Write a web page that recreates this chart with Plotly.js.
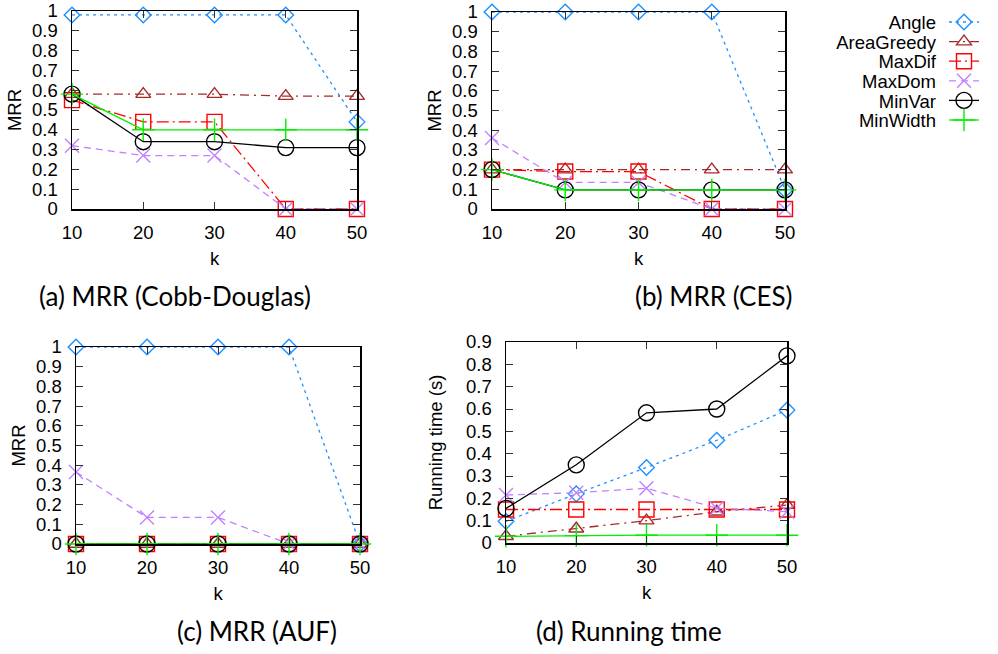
<!DOCTYPE html>
<html>
<head>
<meta charset="utf-8">
<script src="https://cdn.plot.ly/plotly-3.0.1.min.js"></script>
<style>
  html, body { margin: 0; padding: 0; background: #fff; }
  #chart { width: 998px; height: 654px; }
</style>
</head>
<body>
<div id="chart"></div>
<script>
// ---------- data ----------
const kValues = [10, 20, 30, 40, 50];
const seriesNames = ["Angle", "AreaGreedy", "MaxDif", "MaxDom", "MinVar", "MinWidth"];

// (a) MRR (Cobb-Douglas)
const cdAngle      = [0.98, 0.98, 0.98, 0.98, 0.44];
const cdAreaGreedy = [0.58, 0.58, 0.58, 0.57, 0.57];
const cdMaxDif     = [0.55, 0.44, 0.44, 0, 0];
const cdMaxDom     = [0.32, 0.27, 0.27, 0, 0];
const cdMinVar     = [0.58, 0.34, 0.34, 0.31, 0.31];
const cdMinWidth   = [0.58, 0.40, 0.40, 0.40, 0.40];

// (b) MRR (CES)
const cesAngle      = [1, 1, 1, 1, 0.097];
const cesAreaGreedy = [0.2, 0.2, 0.2, 0.2, 0.2];
const cesMaxDif     = [0.2, 0.19, 0.19, 0, 0];
const cesMaxDom     = [0.36, 0.135, 0.135, 0, 0];
const cesMinVar     = [0.2, 0.097, 0.097, 0.097, 0.097];
const cesMinWidth   = [0.2, 0.097, 0.097, 0.097, 0.097];

// (c) MRR (AUF)
const aufAngle      = [1, 1, 1, 1, 0];
const aufAreaGreedy = [0, 0, 0, 0, 0];
const aufMaxDif     = [0, 0, 0, 0, 0];
const aufMaxDom     = [0.365, 0.135, 0.135, 0, 0];
const aufMinVar     = [0, 0, 0, 0, 0];
const aufMinWidth   = [0, 0, 0, 0, 0];

// (d) Running time (s)
const rtAngle      = [0.097, 0.22, 0.338, 0.46, 0.595];
const rtAreaGreedy = [0.03, 0.064, 0.10, 0.14, 0.17];
const rtMaxDif     = [0.15, 0.15, 0.15, 0.15, 0.15];
const rtMaxDom     = [0.215, 0.225, 0.245, 0.156, 0.14];
const rtMinVar     = [0.155, 0.35, 0.583, 0.60, 0.838];
const rtMinWidth   = [0.03, 0.033, 0.035, 0.035, 0.035];

// tick labels
const mrrTicks  = [0, 0.1, 0.2, 0.3, 0.4, 0.5, 0.6, 0.7, 0.8, 0.9, 1];
const mrrLabels = ["0", "0.1", "0.2", "0.3", "0.4", "0.5", "0.6", "0.7", "0.8", "0.9", "1"];
const rtTicks   = [0, 0.1, 0.2, 0.3, 0.4, 0.5, 0.6, 0.7, 0.8, 0.9];
const rtLabels  = ["0", "0.1", "0.2", "0.3", "0.4", "0.5", "0.6", "0.7", "0.8", "0.9"];
const kLabels   = ["10", "20", "30", "40", "50"];

const captions = ["(a) MRR (Cobb-Douglas)", "(b) MRR (CES)", "(c) MRR (AUF)", "(d) Running time"];

// ---------- styles ----------
const styles = {
  Angle:      { color: "#1e90ff", dash: "3px,4px",            symbol: "diamond-open",     size: 12 },
  AreaGreedy: { color: "#a52a2a", dash: "9px,5px,2px,5px",     symbol: "triangle-up-open", size: 13 },
  MaxDif:     { color: "#ff0000", dash: "12px,4px,2px,4px",    symbol: "square-open",      size: 15 },
  MaxDom:     { color: "#c080ff", dash: "7px,5px",             symbol: "x-thin-open",      size: 14 },
  MinVar:     { color: "#000000", dash: "solid",               symbol: "circle-open",      size: 16 },
  MinWidth:   { color: "#00f000", dash: "solid",               symbol: "cross-thin-open",  size: 16 }
};

const panels = [
  { xa: "x",  ya: "y",  vals: [cdAngle, cdAreaGreedy, cdMaxDif, cdMaxDom, cdMinVar, cdMinWidth] },
  { xa: "x2", ya: "y2", vals: [cesAngle, cesAreaGreedy, cesMaxDif, cesMaxDom, cesMinVar, cesMinWidth] },
  { xa: "x3", ya: "y3", vals: [aufAngle, aufAreaGreedy, aufMaxDif, aufMaxDom, aufMinVar, aufMinWidth] },
  { xa: "x4", ya: "y4", vals: [rtAngle, rtAreaGreedy, rtMaxDif, rtMaxDom, rtMinVar, rtMinWidth] }
];

const traces = [];
panels.forEach((p, pi) => {
  seriesNames.forEach((name, si) => {
    const st = styles[name];
    traces.push({
      type: "scatter",
      mode: "lines+markers",
      name: name,
      legendgroup: name,
      showlegend: pi === 0,
      x: kValues,
      y: p.vals[si],
      xaxis: p.xa,
      yaxis: p.ya,
      cliponaxis: false,
      line: { color: st.color, width: 1.3, dash: st.dash },
      marker: { symbol: st.symbol, size: st.size, color: st.color, line: { color: st.color, width: 1.4 } }
    });
  });
});

const FONT = "Liberation Sans";
const tickFont = { family: FONT, size: 18.5, color: "#000" };

function xAxis(domain, anchor) {
  return {
    domain: domain, anchor: anchor, range: [10, 50],
    tickvals: kValues, ticktext: kLabels,
    ticks: "inside", ticklen: 7, tickwidth: 1, tickcolor: "#333",
    showline: true, linecolor: "#000", linewidth: 1.5, mirror: "ticks",
    showgrid: false, zeroline: false, fixedrange: true,
    tickfont: tickFont, ticklabelstandoff: 6,
    title: { text: "k", font: tickFont, standoff: 10 }
  };
}
function yAxis(domain, anchor, range, tv, tt, title, standoff) {
  return {
    domain: domain, anchor: anchor, range: range,
    tickvals: tv, ticktext: tt,
    ticks: "inside", ticklen: 7, tickwidth: 1, tickcolor: "#333",
    showline: true, linecolor: "#000", linewidth: 1.5, mirror: "ticks",
    showgrid: false, zeroline: false, fixedrange: true,
    tickfont: tickFont, ticklabelstandoff: 9,
    title: { text: title, font: tickFont, standoff: standoff }
  };
}

const W = 998, H = 654;
const layout = {
  width: W, height: H,
  margin: { l: 0, r: 0, t: 0, b: 0 },
  paper_bgcolor: "#fff", plot_bgcolor: "#fff",
  font: tickFont,
  xaxis:  xAxis([72 / W, 357 / W], "y"),
  yaxis:  yAxis([1 - 209 / H, 1 - 11 / H], "x", [0, 1], mrrTicks, mrrLabels, "MRR", 5),
  xaxis2: xAxis([492 / W, 785 / W], "y2"),
  yaxis2: yAxis([1 - 209 / H, 1 - 12 / H], "x2", [0, 1], mrrTicks, mrrLabels, "MRR", 5),
  xaxis3: xAxis([76 / W, 360 / W], "y3"),
  yaxis3: yAxis([1 - 544 / H, 1 - 347 / H], "x3", [0, 1], mrrTicks, mrrLabels, "MRR", 5),
  xaxis4: xAxis([506 / W, 787 / W], "y4"),
  yaxis4: yAxis([1 - 543 / H, 1 - 342 / H], "x4", [0, 0.9], rtTicks, rtLabels, "Running time (s)", 18),
  showlegend: true,
  legend: {
    x: 830 / W, y: 1 - 8 / H, xanchor: "left", yanchor: "top",
    font: { family: FONT, size: 18.5, color: "#000" },
    bgcolor: "rgba(0,0,0,0)", tracegroupgap: 0, itemwidth: 30
  },
  annotations: [
    { text: captions[0], x: 175 / W, y: 1 - 296 / H },
    { text: captions[1], x: 714 / W, y: 1 - 296 / H },
    { text: captions[2], x: 257 / W, y: 1 - 631 / H },
    { text: captions[3], x: 629 / W, y: 1 - 631 / H }
  ].map(a => Object.assign({
    xref: "paper", yref: "paper", xanchor: "center", yanchor: "middle", showarrow: false,
    font: { family: "Lato", size: 26, color: "#000" }
  }, a))
};

// gnuplot-style key: labels right-aligned, sample on the right
const keyTextRight = 936, keySampleCenter = 964, keyTop = 22, keyStep = 19.6;

Plotly.newPlot("chart", traces, layout, { displayModeBar: false, staticPlot: true }).then(gd => {
  const sb = gd.querySelector(".legend .scrollbox");
  if (sb) sb.removeAttribute("clip-path");
  const bg = gd.querySelector(".legend rect.bg");
  if (bg) bg.setAttribute("visibility", "hidden");
  gd.querySelectorAll(".legend g.traces").forEach((g, i) => {
    const pm = g.parentNode.getScreenCTM();
    g.setAttribute("transform", `translate(0,${keyTop + i * keyStep - pm.f})`);
    const m = g.getScreenCTM();
    const txt = g.querySelector("text.legendtext");
    if (txt) {
      txt.setAttribute("text-anchor", "end");
      txt.setAttribute("x", keyTextRight - m.e);
    }
    const layers = g.querySelector("g.layers");
    if (layers) layers.setAttribute("transform", `translate(${keySampleCenter - m.e - 20},0)`);
  });
});
</script>
</body>
</html>
